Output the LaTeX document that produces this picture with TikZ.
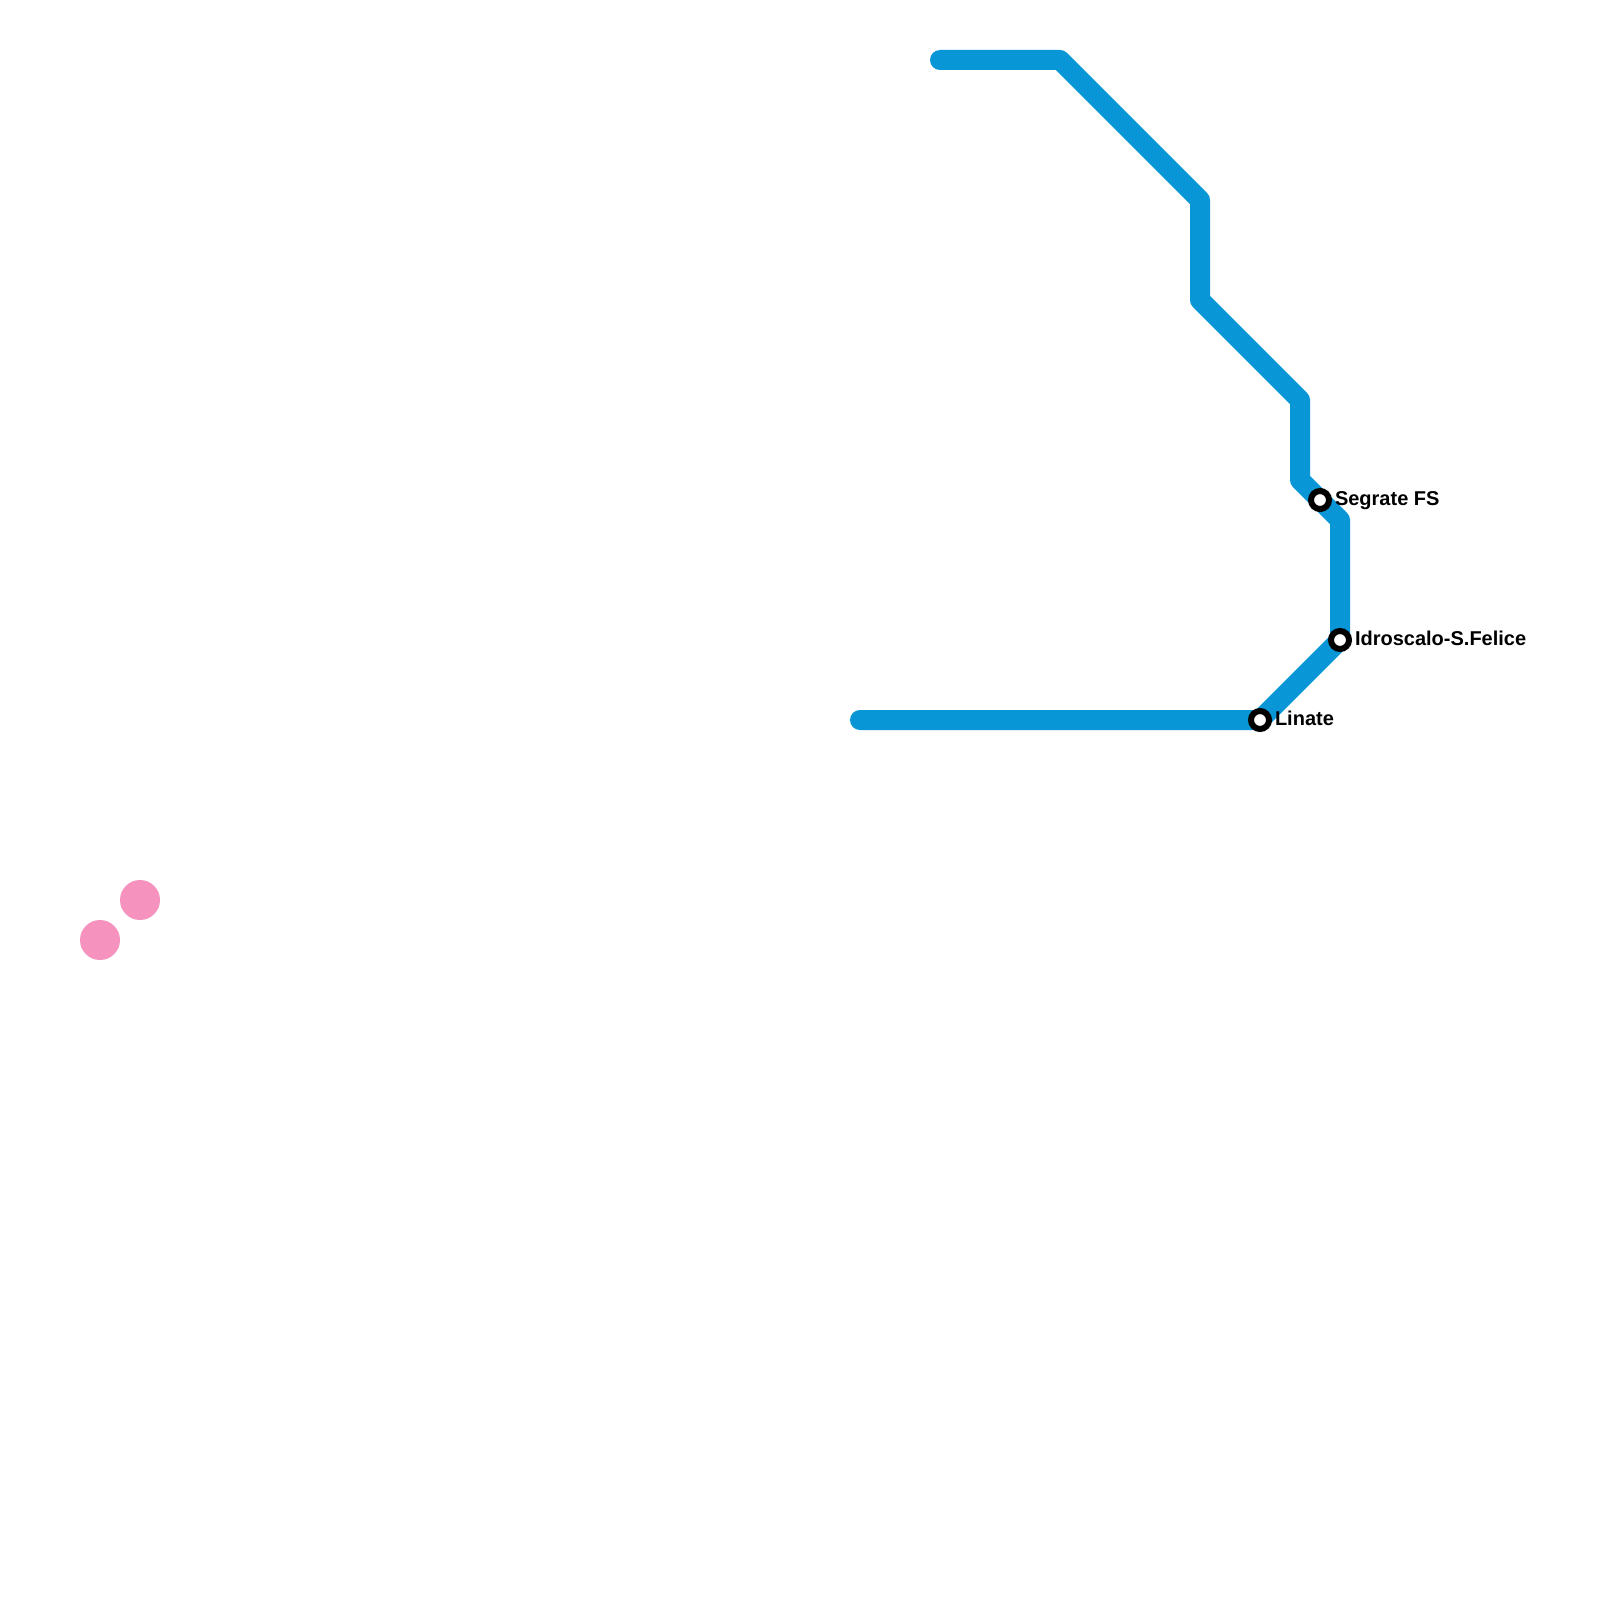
\documentclass[tikz,border=0pt]{standalone}
\usepackage{fontspec}
\setmainfont{Liberation Sans}
\definecolor{linecol}{HTML}{0896D7}
\definecolor{pinkcol}{HTML}{F692BE}
\tikzset{
  metroline/.style={draw=linecol,line width=20bp,line cap=round,line join=round},
  stationmark/.style={circle,draw=black,fill=white,line width=6bp,minimum size=18bp,inner sep=0pt,outer sep=0pt},
  stationlabel/.style={anchor=base west,inner sep=0pt,outer sep=0pt,font=\fontsize{20bp}{22bp}\selectfont\bfseries,text=black},
  pinkdot/.style={circle,fill=pinkcol,minimum size=40bp,inner sep=0pt,outer sep=0pt}
}
\begin{document}
\begin{tikzpicture}[x=1bp,y=-1bp]
\useasboundingbox (0,0) rectangle (1600,1600);
\fill[white] (0,0) rectangle (1600,1600);
\coordinate (p0) at (940,60);
\coordinate (p1) at (1060,60);
\coordinate (p2) at (1200,200);
\coordinate (p3) at (1200,300);
\coordinate (p4) at (1300,400);
\coordinate (p5) at (1300,480);
\coordinate (p6) at (1340,520);
\coordinate (p7) at (1340,640);
\coordinate (p8) at (1260,720);
\coordinate (p9) at (860,720);
\draw[metroline] (p0) -- (p1) -- (p2) -- (p3) -- (p4) -- (p5) -- (p6) -- (p7) -- (p8) -- (p9);
\node[stationmark] (segrate) at (1320,500) {};
\node[stationmark] (idroscalo) at (1340,640) {};
\node[stationmark] (linate) at (1260,720) {};
\node[stationlabel] (lsegrate) at (1335,505) {Segrate FS};
\node[stationlabel] (lidroscalo) at (1355,645) {Idroscalo-S.Felice};
\node[stationlabel] (llinate) at (1275,725) {Linate};
\node[pinkdot] (dota) at (140,900) {};
\node[pinkdot] (dotb) at (100,940) {};
\end{tikzpicture}
\end{document}
